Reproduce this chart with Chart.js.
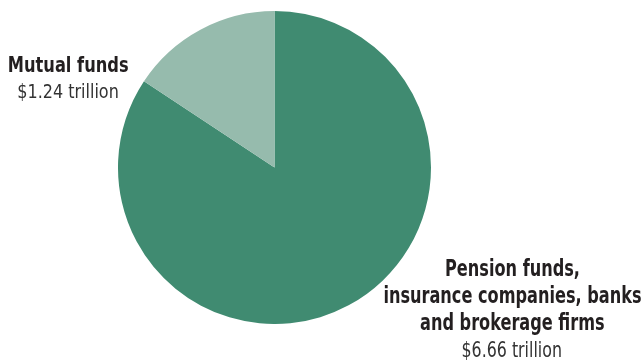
<!DOCTYPE html>
<html lang="en">
<head>
  <meta charset="UTF-8" />
  <title>Holdings</title>
  <script src="https://cdn.jsdelivr.net/npm/chart.js"></script>
  <style>
    html, body { margin: 0; padding: 0; background: #fff; }
    body { width: 644px; height: 362px; position: relative; overflow: hidden;
           font-family: "DejaVu Sans Condensed", "DejaVu Sans", sans-serif; color: #231f20; }
    .pie-box { position: absolute; left: 118px; top: 11px; width: 313px; height: 313px; }
    .label { position: absolute; text-align: center; white-space: nowrap; }
    .label b, .label span { display: inline-block; transform-origin: center; }
    .label span { font-weight: normal; color: #333; }

    #lblMutual { left: -32px; top: 52px; width: 200px; }
    #lblMutual div { height: 26px; line-height: 26px; }
    #lblMutual b { font-size: 21px; transform: scaleX(0.86); }
    #lblMutual span { font-size: 20px; transform: scaleX(0.89); }

    #lblPension { left: 312px; top: 254.6px; width: 400px; }
    #lblPension div { height: 27px; line-height: 27px; }
    #lblPension b { font-size: 23px; transform: scaleX(0.78); }
    #lblPension span { font-size: 22px; transform: scaleX(0.8); }
  </style>
</head>
<body>
  <div class="pie-box"><canvas id="graficoPie"></canvas></div>

  <div class="label" id="lblMutual"></div>
  <div class="label" id="lblPension"></div>

  <script>
    // Holders and amounts (trillions of dollars)
    const categorias = ['Pension funds, insurance companies, banks and brokerage firms', 'Mutual funds'];
    const linhasCategoria = [
      ['Pension funds,', 'insurance companies, banks', 'and brokerage firms'],
      ['Mutual funds']
    ];
    const valores = [6.66, 1.24];
    const valorTexto = ['$6.66 trillion', '$1.24 trillion'];
    const cores = ['#408b71', '#96bbad'];

    function montarRotulo(id, i) {
      const box = document.getElementById(id);
      linhasCategoria[i].forEach(t => {
        const d = document.createElement('div');
        const b = document.createElement('b');
        b.textContent = t;
        d.appendChild(b);
        box.appendChild(d);
      });
      const d = document.createElement('div');
      const s = document.createElement('span');
      s.textContent = valorTexto[i];
      d.appendChild(s);
      box.appendChild(d);
    }
    montarRotulo('lblPension', 0);
    montarRotulo('lblMutual', 1);

    new Chart(document.getElementById('graficoPie'), {
      type: 'pie',
      data: {
        labels: categorias,
        datasets: [{
          data: valores,
          backgroundColor: cores,
          borderWidth: 0
        }]
      },
      options: {
        responsive: true,
        maintainAspectRatio: false,
        animation: false,
        layout: { padding: 0 },
        plugins: {
          legend: { display: false },
          tooltip: { enabled: false }
        }
      }
    });
  </script>
</body>
</html>
